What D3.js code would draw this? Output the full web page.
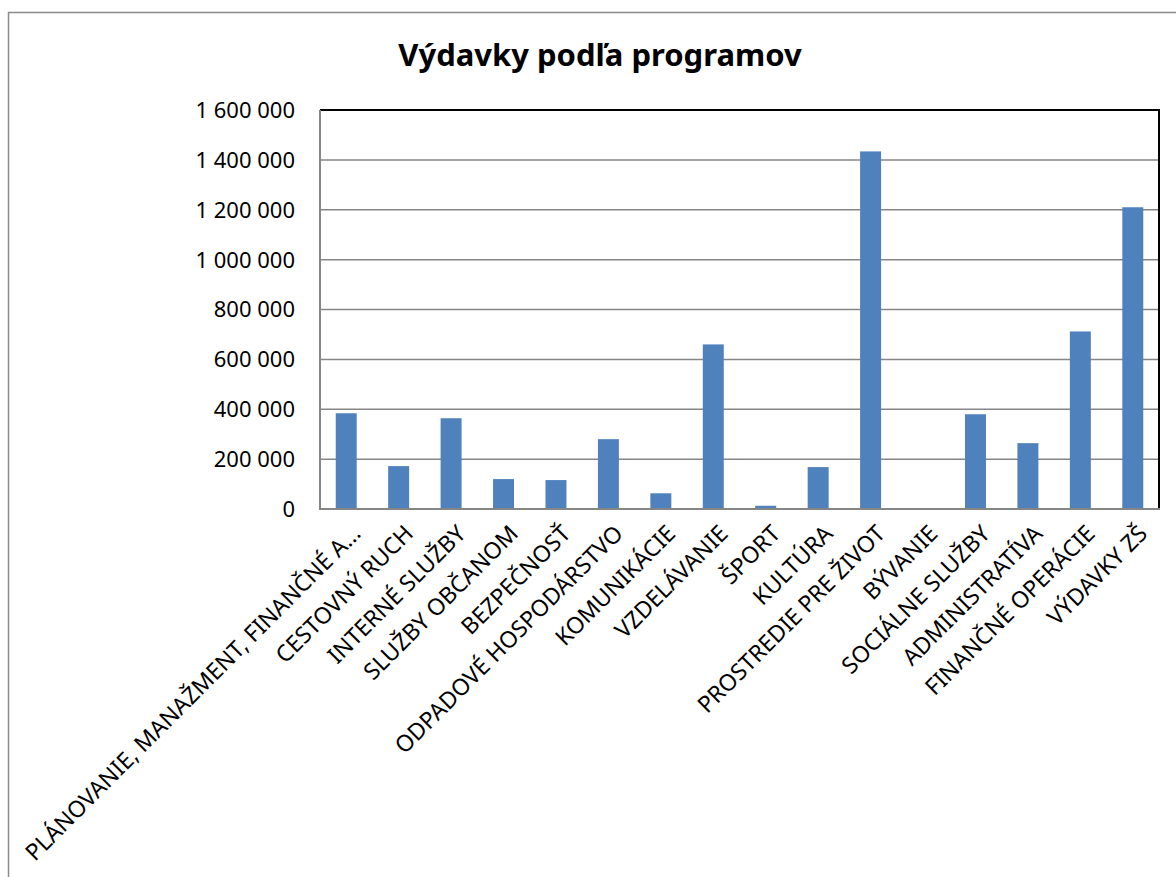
<!DOCTYPE html>
<html><head><meta charset="utf-8">
<script src="https://cdn.jsdelivr.net/npm/d3@7"></script>
<style>body{margin:0;background:#fff;} svg{display:block;}</style>
</head><body>
<svg id="c" width="1176" height="877"></svg>
<script>
const categories = ["PLÁNOVANIE, MANAŽMENT, FINANČNÉ A...","CESTOVNÝ RUCH","INTERNÉ SLUŽBY","SLUŽBY OBČANOM","BEZPEČNOSŤ","ODPADOVÉ HOSPODÁRSTVO","KOMUNIKÁCIE","VZDELÁVANIE","ŠPORT","KULTÚRA","PROSTREDIE PRE ŽIVOT","BÝVANIE","SOCIÁLNE SLUŽBY","ADMINISTRATÍVA","FINANČNÉ OPERÁCIE","VÝDAVKY ZŠ"];
const values = [384000,172000,364000,120000,116000,280000,63000,660000,13000,168000,1434000,0,380000,264000,712000,1210000];
const yTicks = [0,200000,400000,600000,800000,1000000,1200000,1400000,1600000];
const title = "Výdavky podľa programov";

const svg = d3.select("#c");
const font = "'Noto Sans', 'Open Sans', sans-serif";
const L=320, R=1159, T=110, B=509;

// outer chart border
svg.append("path").attr("d","M8.5,877 L8.5,12.5 L1176,12.5").attr("fill","none").attr("stroke","#8a8a8a").attr("stroke-width",1.5);

const x = d3.scaleBand().domain(categories).range([L,R]).paddingInner(0.6).paddingOuter(0.3);
const y = d3.scaleLinear().domain([0,1600000]).range([B,T]);

// gridlines
svg.append("g").selectAll("line").data(yTicks.filter(d=>d>0)).join("line")
 .attr("x1",L).attr("x2",R).attr("y1",d=>y(d)).attr("y2",d=>y(d))
 .attr("stroke","#868686").attr("stroke-width",1.5);

// plot border (top/right black)
svg.append("path").attr("d",`M${L},${T} L${R},${T} L${R},${B}`).attr("fill","none").attr("stroke","#000").attr("stroke-width",2);

// bars
svg.append("g").selectAll("rect").data(categories).join("rect")
 .attr("x",d=>x(d)).attr("width",x.bandwidth())
 .attr("y",(d,i)=>y(values[i])).attr("height",(d,i)=>B-y(values[i]))
 .attr("fill","#4F81BD");

// axes lines
svg.append("line").attr("x1",L).attr("x2",L).attr("y1",T).attr("y2",B).attr("stroke","#868686").attr("stroke-width",2);
svg.append("line").attr("x1",L-1).attr("x2",R+1).attr("y1",B).attr("y2",B).attr("stroke","#868686").attr("stroke-width",2);

// y axis labels
const fmt = v => d3.format(",")(v).replace(/,/g," ");
svg.append("g").selectAll("text").data(yTicks).join("text")
 .attr("x",295).attr("y",d=>y(d)).attr("dy","0.36em").attr("text-anchor","end")
 .attr("font-family",font).attr("font-size",22).attr("fill","#000").text(fmt);

// x labels
svg.append("g").selectAll("text").data(categories).join("text")
 .attr("transform",d=>`translate(${x(d)+x.bandwidth()/2+16},${535}) rotate(-45)`)
 .attr("text-anchor","end")
 .attr("font-family",font).attr("font-size",23).attr("fill","#000").text(d=>d);

// title
svg.append("text").attr("x",600).attr("y",66).attr("text-anchor","middle")
 .attr("font-family",font).attr("font-weight","bold").attr("font-size",31).attr("fill","#000").text(title);
</script>
</body></html>
